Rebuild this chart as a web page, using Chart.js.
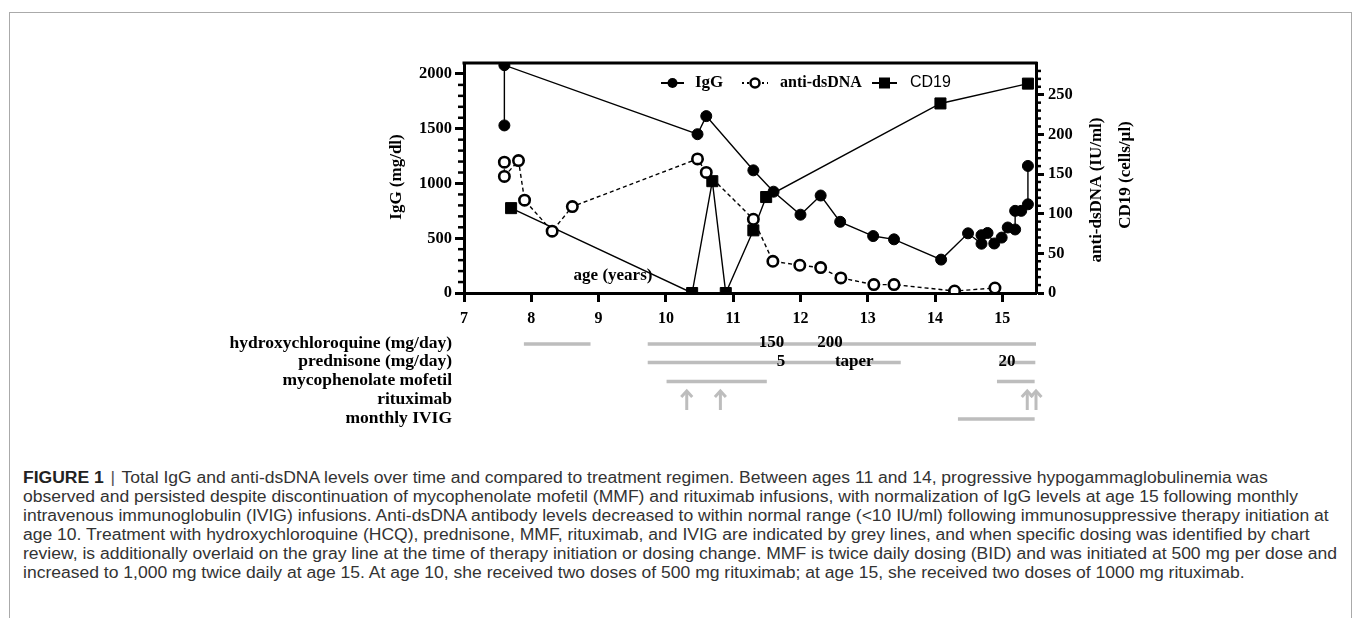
<!DOCTYPE html>
<html lang="en">
<head>
<meta charset="UTF-8">
<title>IgG and anti-dsDNA over time</title>
<script src="https://cdn.jsdelivr.net/npm/chart.js"></script>
<style>
  body { margin: 0; width: 1355px; height: 618px; overflow: hidden; background: #fff; position: relative; }
  #frame { position: absolute; left: 9px; top: 12px; width: 1341px; height: 700px; border: 1px solid #aaa; border-bottom: none; }
  #chart { position: absolute; left: 0; top: 0; }
  #caption {
    position: absolute; left: 23px; top: 468px;
    font-family: 'Liberation Sans', Arial, sans-serif; font-size: 16px; line-height: 19px;
    color: #333; white-space: nowrap; transform-origin: 0 0;
  }
  #caption b { color: #222; }
  #caption .bar { color: #555; margin: 0 6px; }
</style>
</head>
<body>
<div id="frame"></div>
<canvas id="chart" width="1355" height="440"></canvas>
<div id="caption">
  <div><b>FIGURE 1</b><span class="bar">|</span>Total IgG and anti-dsDNA levels over time and compared to treatment regimen. Between ages 11 and 14, progressive hypogammaglobulinemia was</div>
  <div>observed and persisted despite discontinuation of mycophenolate mofetil (MMF) and rituximab infusions, with normalization of IgG levels at age 15 following monthly</div>
  <div>intravenous immunoglobulin (IVIG) infusions. Anti-dsDNA antibody levels decreased to within normal range (&lt;10 IU/ml) following immunosuppressive therapy initiation at</div>
  <div>age 10. Treatment with hydroxychloroquine (HCQ), prednisone, MMF, rituximab, and IVIG are indicated by grey lines, and when specific dosing was identified by chart</div>
  <div id="longest">review, is additionally overlaid on the gray line at the time of therapy initiation or dosing change. MMF is twice daily dosing (BID) and was initiated at 500 mg per dose and</div>
  <div>increased to 1,000 mg twice daily at age 15. At age 10, she received two doses of 500 mg rituximab; at age 15, she received two doses of 1000 mg rituximab.</div>
</div>
<script>
// ---- data ----
const iggAges   = [7.6, 7.6, 10.47, 10.6, 11.3, 11.6, 12.0, 12.3, 12.59, 13.08, 13.39, 14.09, 14.49, 14.69, 14.69, 14.78, 14.88, 14.99, 15.08, 15.19, 15.19, 15.28, 15.38, 15.38];
const iggValues = [1530, 2080, 1450, 1615, 1120, 925, 715, 890, 650, 520, 490, 305, 545, 450, 528, 548, 452, 506, 598, 580, 750, 750, 810, 1160];

const dsdnaAges   = [7.6, 7.6, 7.81, 7.9, 8.31, 8.61, 10.47, 10.6, 11.3, 11.59, 11.99, 12.3, 12.6, 13.09, 13.39, 14.29, 14.89];
const dsdnaValues = [165, 147, 167, 117, 78, 109, 169, 152, 93, 40, 35, 32, 19, 10.6, 10.6, 2.5, 6.3];

const cd19Ages   = [7.7, 10.39, 10.69, 10.89, 11.3, 11.49, 14.08, 15.38];
const cd19Values = [107, 0, 141, 0, 79, 121, 239, 264];

const ageTicks   = [7, 8, 9, 10, 11, 12, 13, 14, 15];
const iggTicks   = [0, 500, 1000, 1500, 2000];
const rightTicks = [0, 50, 100, 150, 200, 250];

// treatment rows (ages)
const treatmentNames = ['hydroxychloroquine (mg/day)', 'prednisone (mg/day)', 'mycophenolate mofetil', 'rituximab', 'monthly IVIG'];
const hcqSpans   = [[7.89, 8.88], [9.73, 15.5]];
const hcqDoses   = [[11.57, '150'], [12.44, '200']];
const predSpans  = [[9.73, 13.49], [14.95, 15.49]];
const predDoses  = [[11.71, '5'], [12.8, 'taper'], [15.07, '20']];
const mmfSpans   = [[10.01, 11.5], [14.92, 15.48]];
const rituxDates = [10.31, 10.81, 15.37, 15.5];
const ivigSpans  = [[14.34, 15.48]];

const pts = (xs, ys) => xs.map((x, i) => ({ x: x, y: ys[i] }));
const SERIF = "'Liberation Serif', 'Times New Roman', serif";
const SANS = "'Liberation Sans', Arial, sans-serif";

const rowY = [344, 362.5, 381.5, 400, 419];

const extras = {
  id: 'extras',
  afterDraw(chart) {
    const ctx = chart.ctx, a = chart.chartArea;
    const x = chart.scales.x, yL = chart.scales.yL, yR = chart.scales.yR;
    const seg = (x1, y1, x2, y2) => { ctx.beginPath(); ctx.moveTo(x1, y1); ctx.lineTo(x2, y2); ctx.stroke(); };
    ctx.save();
    ctx.strokeStyle = '#000';
    ctx.lineWidth = 3;
    seg(a.left - 1.5, a.top, a.right + 1.5, a.top);

    // minor ticks
    ctx.lineWidth = 2.5;
    for (let v = 100; v < 2100; v += 100) {
      if (v % 500 === 0) continue;
      const py = yL.getPixelForValue(v);
      seg(a.left - 6, py, a.left, py);
    }
    for (let v = 10; v < 290; v += 10) {
      if (v % 50 === 0) continue;
      const py = yR.getPixelForValue(v);
      seg(a.right, py, a.right + 5, py);
    }

    // axis titles
    ctx.fillStyle = '#000';
    ctx.textAlign = 'center';
    ctx.textBaseline = 'middle';
    ctx.font = 'bold 17px ' + SERIF;
    const vtext = (t, cx, cy) => { ctx.save(); ctx.translate(cx, cy); ctx.rotate(-Math.PI / 2); ctx.fillText(t, 0, 0); ctx.restore(); };
    vtext('IgG (mg/dl)', 397, 177);
    vtext('anti-dsDNA (IU/ml)', 1097, 190);
    vtext('CD19 (cells/\u00b5l)', 1126, 175);
    ctx.fillText('age (years)', 613, 276);

    // legend
    const ly = 83;
    ctx.lineWidth = 2;
    seg(661, ly, 684, ly);
    ctx.beginPath(); ctx.arc(672.5, ly, 5, 0, Math.PI * 2); ctx.fill();
    ctx.setLineDash([2, 3]);
    seg(742, ly, 768, ly);
    ctx.setLineDash([]);
    ctx.fillStyle = '#fff'; ctx.lineWidth = 2.5;
    ctx.beginPath(); ctx.arc(755, ly, 4.5, 0, Math.PI * 2); ctx.fill(); ctx.stroke();
    ctx.fillStyle = '#000'; ctx.lineWidth = 2;
    seg(872, ly, 897, ly);
    ctx.fillRect(879, ly - 5.5, 11, 11);
    ctx.textAlign = 'left';
    ctx.font = 'bold 17px ' + SERIF;
    ctx.fillText('IgG', 695, ly);
    ctx.font = 'bold 16px ' + SERIF;
    ctx.fillText('anti-dsDNA', 780, ly);
    ctx.font = '16px ' + SANS;
    ctx.fillText('CD19', 910, ly);

    // treatment rows
    ctx.font = 'bold 17.5px ' + SERIF;
    ctx.textAlign = 'right';
    treatmentNames.forEach((n, i) => ctx.fillText(n, 452, rowY[i] - 1));

    ctx.strokeStyle = '#bdbdbd';
    ctx.lineWidth = 3.5;
    const spans = (list, y) => list.forEach(s => seg(x.getPixelForValue(s[0]), y, x.getPixelForValue(s[1]), y));
    spans(hcqSpans, rowY[0]);
    spans(predSpans, rowY[1]);
    spans(mmfSpans, rowY[2]);
    spans(ivigSpans, rowY[4]);
    ctx.lineWidth = 3;
    rituxDates.forEach(d => {
      const px = x.getPixelForValue(d);
      seg(px, 410, px, 391);
      ctx.beginPath(); ctx.moveTo(px - 5.5, 397); ctx.lineTo(px, 391); ctx.lineTo(px + 5.5, 397); ctx.stroke();
    });

    ctx.fillStyle = '#000';
    ctx.textAlign = 'center';
    ctx.font = 'bold 17px ' + SERIF;
    hcqDoses.forEach(d => ctx.fillText(d[1], x.getPixelForValue(d[0]), rowY[0] - 1));
    predDoses.forEach(d => ctx.fillText(d[1], x.getPixelForValue(d[0]), rowY[1] - 1));
    ctx.restore();
  }
};

const plain = v => String(v);
const axisCommon = {
  border: { display: true, width: 3, color: '#000' },
  grid: { drawOnChartArea: false, drawTicks: true, tickWidth: 3, tickColor: '#000' },
  ticks: { color: '#000', font: { family: SERIF, weight: 'bold', size: 16.5 }, callback: plain }
};

new Chart(document.getElementById('chart'), {
  type: 'scatter',
  data: {
    datasets: [
      {
        label: 'IgG', yAxisID: 'yL', data: pts(iggAges, iggValues),
        showLine: true, borderColor: '#000', borderWidth: 1.4,
        pointStyle: 'circle', pointRadius: 5.5, pointBackgroundColor: '#000', pointBorderColor: '#000', pointBorderWidth: 1
      },
      {
        label: 'anti-dsDNA', yAxisID: 'yR', data: pts(dsdnaAges, dsdnaValues),
        showLine: true, borderColor: '#000', borderWidth: 1.4, borderDash: [4, 3],
        pointStyle: 'circle', pointRadius: 5.2, pointBackgroundColor: '#fff', pointBorderColor: '#000', pointBorderWidth: 2.6
      },
      {
        label: 'CD19', yAxisID: 'yR', data: pts(cd19Ages, cd19Values),
        showLine: true, borderColor: '#000', borderWidth: 1.4,
        pointStyle: 'rect', pointRadius: 7.8, pointBackgroundColor: '#000', pointBorderColor: '#000', pointBorderWidth: 1
      }
    ]
  },
  options: {
    responsive: false,
    animation: false,
    layout: { padding: { left: 380, right: 259, top: 63, bottom: 117 } },
    plugins: { legend: { display: false }, tooltip: { enabled: false } },
    scales: {
      x: {
        type: 'linear', position: 'bottom', min: 7, max: 15.5,
        border: axisCommon.border,
        grid: Object.assign({}, axisCommon.grid, { tickLength: 9 }),
        ticks: Object.assign({}, axisCommon.ticks, { padding: 7, font: { family: SERIF, weight: 'bold', size: 16 } }),
        afterBuildTicks: s => { s.ticks = ageTicks.map(v => ({ value: v })); },
        afterFit: s => { s.height = 30; }
      },
      yL: {
        type: 'linear', position: 'left', min: 0, max: 2100,
        border: axisCommon.border,
        grid: Object.assign({}, axisCommon.grid, { tickLength: 9 }),
        ticks: Object.assign({}, axisCommon.ticks, { padding: 3 }),
        afterBuildTicks: s => { s.ticks = iggTicks.map(v => ({ value: v })); },
        afterFit: s => { s.width = 84; }
      },
      yR: {
        type: 'linear', position: 'right', min: 0, max: 290,
        border: axisCommon.border,
        grid: Object.assign({}, axisCommon.grid, { tickLength: 8 }),
        ticks: Object.assign({}, axisCommon.ticks, { padding: 4 }),
        afterBuildTicks: s => { s.ticks = rightTicks.map(v => ({ value: v })); },
        afterFit: s => { s.width = 60; }
      }
    }
  },
  plugins: [extras]
});

// squeeze the caption to the condensed width of the original
const cap = document.getElementById('caption');
const longest = document.getElementById('longest');
const w = longest.getBoundingClientRect().width;
cap.style.transform = 'scaleX(' + (1314 / w) + ')';
</script>
</body>
</html>
